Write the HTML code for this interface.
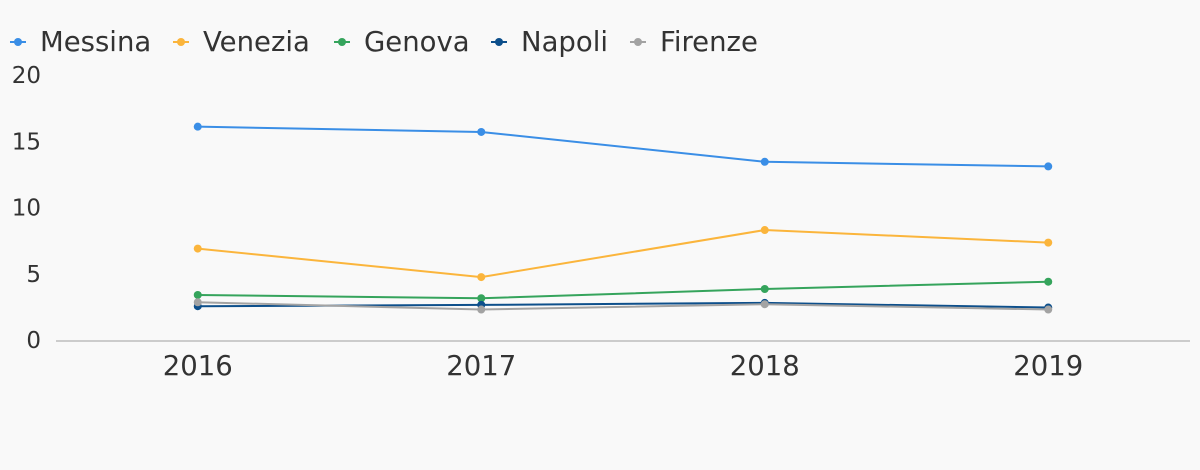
<!DOCTYPE html>
<html><head><meta charset="utf-8"><style>
body{margin:0;background:#f9f9f9;}
svg{display:block;font-family:"DejaVu Sans","Liberation Sans",sans-serif;}
</style></head><body>
<svg id="chart" width="1200" height="470" viewBox="0 0 1200 470">
<rect width="1200" height="470" fill="#f9f9f9"/>
<g id="legend"></g>
<g id="yaxis"></g>
<g id="xaxis"></g>
<g id="series"></g>
</svg>
<script>
const categories = ["2016","2017","2018","2019"];
const seriesNames = ["Messina","Venezia","Genova","Napoli","Firenze"];
const messina = [16.1,15.7,13.45,13.1];
const venezia = [6.9,4.75,8.3,7.35];
const genova = [3.4,3.15,3.85,4.4];
const napoli = [2.55,2.65,2.8,2.45];
const firenze = [2.85,2.3,2.7,2.3];
const yTicks = [0,5,10,15,20];

const seriesData = [messina,venezia,genova,napoli,firenze];
const colors = ["#3a8ee6","#fbb53c","#35a45c","#0d4f8b","#a3a3a3"];
const NS="http://www.w3.org/2000/svg";
const x0=56,x1=1190,yBase=340,yTop=75,yMax=20;
const band=(x1-x0)/categories.length;
const xs=i=>x0+band*(i+0.5);
const ys=v=>yBase-(yBase-yTop)*v/yMax;
function mk(tag,attrs,parent){const e=document.createElementNS(NS,tag);for(const k in attrs)e.setAttribute(k,attrs[k]);parent.appendChild(e);return e;}

const ya=document.getElementById('yaxis');
yTicks.forEach(t=>{const e=mk('text',{x:41,y:ys(t)+8,'text-anchor':'end','font-size':23,fill:'#333'},ya);e.textContent=t;

});
const xa=document.getElementById('xaxis');
const al=mk('line',{x1:x0,x2:x1,y1:yBase+1,y2:yBase+1,stroke:'#cccccc','stroke-width':2},xa);


categories.forEach((c,i)=>{const e=mk('text',{x:xs(i),y:375,'text-anchor':'middle','font-size':27.5,fill:'#333'},xa);e.textContent=c;

});

const sg=document.getElementById('series');
seriesData.forEach((d,si)=>{
  const g=mk('g',{},sg);
  
  
  const p=mk('polyline',{points:d.map((v,i)=>xs(i)+','+ys(v)).join(' '),fill:'none',stroke:colors[si],'stroke-width':2},g);
  
  
  d.forEach((v,i)=>{const c=mk('circle',{cx:xs(i),cy:ys(v),r:4,fill:colors[si]},g);
  
  });
});

const lg=document.getElementById('legend');
const legX=[10,173,334,491,630];
seriesNames.forEach((n,i)=>{
  const g=mk('g',{},lg);
  
  
  mk('line',{x1:legX[i],x2:legX[i]+16,y1:42,y2:42,stroke:colors[i],'stroke-width':2},g);
  mk('circle',{cx:legX[i]+8,cy:42,r:4,fill:colors[i]},g);
  const t=mk('text',{x:legX[i]+30,y:51,'font-size':27.5,fill:'#333'},g);t.textContent=n;
});
</script>
</body></html>
